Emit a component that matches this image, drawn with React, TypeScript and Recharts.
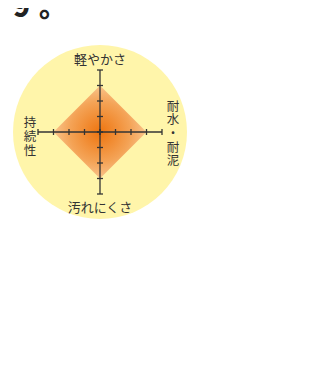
import React from 'react';
import { RadarChart, Radar, PolarAngleAxis, PolarRadiusAxis } from 'recharts';

const categories = ['軽やかさ', '耐水・耐泥', '汚れにくさ', '持続性'];
const scores = [3, 3, 3, 3];
const radiusTicks = [0, 1, 2, 3, 4];
const axisAngles = [90, 0, -90, 180];

const data = categories.map((c, i) => ({ subject: c, value: scores[i] }));

const TEXT = '#333333';
const FONT = '"Noto Sans CJK JP", "Noto Sans", sans-serif';

const makeTick = (angle: number) => (props: any) => {
  const { x, y } = props;
  const vertical = angle === 90 || angle === -90;
  const h = 3;
  return vertical ? (
    <line x1={x - h} x2={x + h} y1={y} y2={y} stroke={TEXT} strokeWidth={1.3} />
  ) : (
    <line x1={x} x2={x} y1={y - h} y2={y + h} stroke={TEXT} strokeWidth={1.3} />
  );
};

const AngleTick = (props: any) => {
  const { x, y, payload, cx, cy } = props;
  const label: string = payload.value;
  const fs = 12.5;
  if (Math.abs(x - cx) < 2) {
    const dy = y < cy ? -4 : 4;
    return (
      <text x={x} y={y + dy} textAnchor="middle" dominantBaseline="central" fontSize={13} fill={TEXT} fontFamily={FONT}>
        {label}
      </text>
    );
  }
  const chars = label.split('');
  const step = 13.6;
  const right = x > cx;
  const tx = right ? x + 3 : x;
  const start = y - ((chars.length - 1) * step) / 2 + (right ? 0 : 3);
  return (
    <text x={tx} y={start} textAnchor="middle" dominantBaseline="central" fontSize={fs} fill={TEXT} fontFamily={FONT}>
      {chars.map((ch, i) => (
        <tspan key={i} x={tx} dy={i === 0 ? 0 : step}>
          {ch}
        </tspan>
      ))}
    </text>
  );
};

export default function App() {
  return (
    <div style={{ position: 'relative', width: 318, height: 355 }}>
      <div
        style={{
          position: 'absolute',
          left: 5,
          top: -17,
          fontSize: 28,
          lineHeight: '28px',
          fontWeight: 900,
          letterSpacing: 9,
          color: '#222',
          fontFamily: '"Noto Sans CJK JP", sans-serif',
          whiteSpace: 'nowrap',
        }}
      >
        9。
      </div>
      <div
        style={{
          position: 'absolute',
          left: 92 - 87,
          top: 124 - 87,
          width: 174,
          height: 174,
          borderRadius: '50%',
          background: '#fff5aa',
        }}
      />
      <RadarChart
        width={318}
        height={355}
        data={data}
        cx={92}
        cy={124}
        outerRadius={62}
        startAngle={90}
        endAngle={-270}
        style={{ position: 'absolute', left: 0, top: 0 }}
      >
        <defs>
          <radialGradient id="dia" cx="50%" cy="50%" r="50%">
            <stop offset="0%" stopColor="#ee7510" />
            <stop offset="65%" stopColor="#f4a356" />
            <stop offset="100%" stopColor="#f9c48c" />
          </radialGradient>
        </defs>
        <Radar dataKey="value" stroke="none" fill="url(#dia)" fillOpacity={1} isAnimationActive={false} />
        {axisAngles.map((a) => (
          <PolarRadiusAxis
            key={a}
            angle={a}
            domain={[0, 4]}
            ticks={radiusTicks as any}
            tickCount={5}
            axisLine={{ stroke: TEXT, strokeWidth: 1.3 }}
            tick={makeTick(a)}
            tickLine={false}
          />
        ))}
        <PolarAngleAxis dataKey="subject" tick={AngleTick} axisLine={false} tickLine={false} tickSize={8} />
      </RadarChart>
    </div>
  );
}
